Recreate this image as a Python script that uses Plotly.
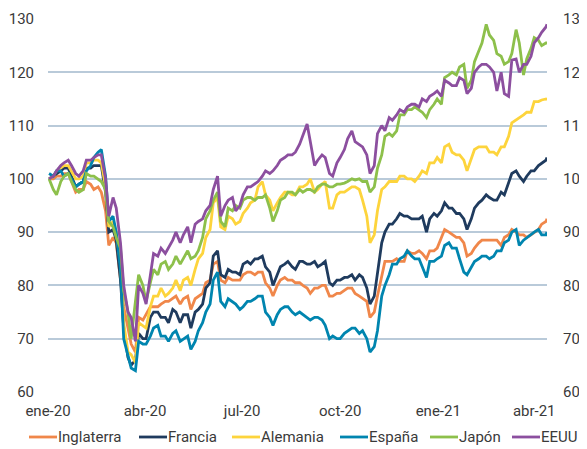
import plotly.graph_objects as go
import pandas as pd

thursdays = pd.date_range("2020-01-02", periods=67, freq="7D")
mondays = thursdays + pd.Timedelta(days=4)
dates = [d.strftime("%Y-%m-%d") for pair in zip(thursdays, mondays) for d in pair] + ["2021-04-13"]

eeuu = [100, 100.5, 101.5, 102.5, 103, 103.5, 102.5, 101, 100.5, 101.5,
        103.5, 103.5, 104, 104.5, 104.5, 100, 93, 96.5, 94.5, 88,
        80, 75, 74, 69.5, 80, 78.5, 76.5, 82, 86, 85.5,
        87, 86, 87, 88.5, 90, 88, 89.5, 91, 88, 91.5,
        92, 92.5, 94, 95, 98, 100.5, 93, 95, 96, 96.5,
        94, 95, 97, 98.5, 98.5, 99, 99.5, 100.5, 101.5, 101,
        101.5, 102.5, 103.5, 104, 104.5, 104.5, 105, 106.5, 108, 110.3,
        107, 102.5, 103.5, 104.5, 104, 101, 100.5, 103, 104, 105.5,
        107.5, 109, 107, 106.5, 106, 104.5, 101, 102.5, 108.5, 110,
        109, 111.5, 111, 112, 113, 112.5, 113.5, 114, 114, 113.5,
        115, 114.5, 115.5, 116, 116.5, 115.5, 118.5, 118, 117.5, 117.5,
        119, 118.5, 116, 117, 120, 121, 121.5, 121.5, 121, 120,
        116.5, 120, 116, 115.5, 122.3, 122.5, 120, 121.5, 121.5, 123,
        125.5, 126.5, 127.5, 128.5, 129]
japon = [100, 98, 97, 99.5, 100.5, 101, 99.5, 98, 97.5, 98,
         101, 100.5, 100.5, 100, 99.5, 98, 92, 91, 89, 87,
         79, 75, 70, 77, 82, 80, 77, 80.5, 83, 82,
         84, 84.5, 83, 84, 85.5, 84, 85, 86.5, 85, 85.5,
         86.5, 89, 92.5, 94, 96, 97.5, 92, 91, 94.5, 94,
         95, 94.5, 96, 96.5, 96.5, 96, 96.5, 96.5, 97, 94.5,
         92, 94, 96, 96.5, 97.5, 97.5, 97, 98, 97.5, 98,
         98, 97.5, 98.5, 99, 99, 98.5, 98.5, 99, 99, 99.2,
         99.5, 100, 99.8, 100, 99.5, 99.5, 97.5, 98.5, 102, 104.5,
         108, 108.5, 108, 109, 112, 112, 113, 113, 113.5, 113,
         112.5, 111.5, 113, 114, 115, 114, 119, 119.5, 120, 119.5,
         121, 121.5, 117, 118.5, 122, 124, 125.5, 129, 127, 126,
         123.5, 123, 121.5, 122, 123.5, 128, 125.5, 119.5, 122.5, 124.5,
         126.5, 126, 125, 125.5, 125.5]
alemania = [100, 100.5, 101.5, 102, 102.5, 102.5, 101.5, 100, 100, 100.5,
            103, 103, 103.5, 103.5, 103, 98.5, 91, 92, 90, 84,
            73, 67.5, 67, 65.5, 73, 72.5, 72, 76, 78, 78,
            79.5, 78, 78.5, 79.5, 81, 79, 81, 81.5, 80, 83,
            85, 86, 89, 90.5, 95.5, 96.5, 91, 90.5, 93, 92.5,
            91.5, 92, 93.5, 94.5, 95.5, 96, 98.5, 99.5, 97, 96,
            94, 95.5, 96.5, 97.5, 97.5, 97, 97, 98.5, 98.5, 99,
            100, 97.5, 98, 99, 99.5, 94.5, 94.5, 97, 97.5, 97.5,
            98, 98.5, 98.5, 98, 96, 93, 88, 89.5, 94, 98,
            98.5, 99.5, 99.5, 99.5, 100.5, 100.5, 100, 100, 99.5, 100.5,
            101.5, 101, 103, 103, 104, 103, 106, 106.5, 105, 104.5,
            104.5, 103.5, 101.5, 104, 105.5, 106, 106, 106, 105, 105,
            104.5, 106, 106, 108, 110.5, 111, 111.5, 112, 112.5, 112.5,
            114.5, 114.5, 114.8, 115, 114.8]
francia = [100, 100.5, 101, 101.5, 102, 102, 100.5, 98.5, 99, 99.5,
           102, 102, 102.5, 102.5, 102.5, 97.5, 90, 90.5, 88.5, 81,
           72, 66.5, 65, 66, 71, 70, 70, 74, 75, 75,
           74, 74, 73, 75.5, 75, 73, 74.5, 74.5, 72, 75,
           75.5, 76.5, 79.5, 80.5, 85.5, 86.5, 82, 81.5, 83, 82.5,
           82.5, 82, 84, 84.5, 84, 85, 85, 85.5, 83.5, 82.5,
           80, 82, 83.5, 84, 84.5, 83.5, 83, 84.5, 84.5, 84,
           84, 84.5, 83.5, 84, 84.5, 80.5, 80, 81, 81, 81.5,
           81.5, 82, 81, 82, 81.5, 79.5, 76.5, 78, 82, 88,
           90, 91.5, 91.5, 92.5, 93.5, 93, 93, 92.5, 92.5, 92.5,
           93, 90, 92.5, 93.5, 93, 94, 95.5, 94.5, 94.5, 93.5,
           93.5, 92.5, 90.5, 92.5, 94.5, 95.5, 96, 97, 96.5, 96,
           96, 97.5, 97, 99.5, 101, 101.5, 100.5, 99.5, 100.5, 101.5,
           101.5, 102.5, 103, 103.5, 104]
inglaterra = [100, 100, 100.5, 100.5, 101, 101, 99.5, 97.5, 98, 98,
              99.5, 99, 98, 98.5, 97.5, 94, 87.5, 89, 88, 81,
              76, 72, 69, 67.5, 74, 73.5, 74.5, 76, 76, 76,
              76.5, 77, 77, 77.5, 78, 76.5, 77.5, 78, 75.5, 77.5,
              78, 78.5, 80.5, 81, 84, 84.5, 81, 80.5, 81.5, 81,
              81, 81, 82, 82.5, 82.5, 82, 82.5, 82.5, 80.5, 79.5,
              78, 80, 81, 81.5, 81, 81, 80.5, 80.5, 80, 79.5,
              78.5, 79.5, 79.5, 80, 80, 78, 78, 78.5, 78.5, 79,
              79.5, 79.5, 78.5, 78, 77.5, 77, 74, 75, 78, 82,
              84.5, 84.5, 84.5, 85, 84.5, 84.5, 86.5, 86, 86, 86.5,
              86, 85, 86.5, 86.5, 87, 89, 90.5, 90, 89.5, 89,
              89, 88, 85.5, 86, 87, 88, 88.5, 88.5, 88.5, 88.5,
              88.5, 87.5, 89, 89.5, 90.5, 90, 89.5, 89.5, 89, 89.5,
              90, 90.5, 91.5, 92, 92.5]
espana = [101, 100.5, 101.5, 101.5, 100.5, 101, 100, 98.5, 99, 99.5,
          101.5, 102.5, 104, 105, 105.5, 100.5, 92, 93, 90, 83,
          70, 66.5, 64.5, 64, 69.5, 69, 69, 70.5, 72, 72.5,
          70.5, 70.5, 69.5, 71, 71.5, 69.5, 70, 70.5, 68, 69.5,
          71.5, 73, 75, 76.5, 81, 82.5, 77, 76, 77.5, 77,
          76.5, 75.5, 76, 77, 77, 77.5, 78, 78, 75, 74,
          72.5, 74.5, 75.5, 76, 76, 75, 74.5, 75, 74.5, 74,
          73.5, 74, 74, 73.5, 72.5, 70, 70.5, 70, 70, 71,
          71.5, 72, 72, 71, 71.5, 70, 67.5, 68.5, 71.5, 78,
          80, 82, 84, 84, 85, 85.5, 86.5, 85.5, 85, 85,
          83.5, 81.5, 84.5, 84.5, 85, 85.5, 87.5, 88, 87, 87,
          85, 82.5, 82, 83.5, 84.5, 85, 85.5, 85.5, 85, 85.5,
          86.5, 86.5, 88, 88.5, 90, 90.5, 87.5, 88.5, 89, 89.5,
          90, 90.5, 89.5, 89.5, 90]

names = ["Inglaterra", "Francia", "Alemania", "España", "Japón", "EEUU"]
values = [inglaterra, francia, alemania, espana, japon, eeuu]
colors = ["#F0874A", "#1F3B5E", "#FDD43C", "#0085AF", "#8DC04B", "#8C4F9F"]
for v in values:
    assert len(v) == len(dates), (len(v), len(dates))

y_ticks = [60, 70, 80, 90, 100, 110, 120, 130]
x_ticks = ["2020-01-01", "2020-04-01", "2020-07-01", "2020-10-01", "2021-01-01", "2021-04-01"]
x_labels = ["ene-20", "abr-20", "jul-20", "oct-20", "ene-21", "abr-21"]

# figure geometry (pixels)
W, H = 579, 441
ML, MR, MT, MB = 40, 40, 11, 57
PW, PH = W - ML - MR, H - MT - MB
# legend entry start positions in pixels (line start), line length
leg_x = [21, 131, 224, 332, 422, 504]
leg_len = 28
leg_y = 429

fig = go.Figure()
for name, vals, col in zip(names, values, colors):
    fig.add_trace(go.Scatter(x=dates, y=vals, name=name, mode="lines",
                             line=dict(color=col, width=2.8)))
fig.add_trace(go.Scatter(x=[dates[0]], y=[100], yaxis="y2", showlegend=False,
                         mode="lines", line=dict(width=0), hoverinfo="skip"))

def px_x(p):
    return (p - ML) / PW

def px_y(p):
    return (MT + PH - p) / PH

txt_color = "#3a3a3a"
for name, col, lx in zip(names, colors, leg_x):
    fig.add_shape(type="line", xref="paper", yref="paper",
                  x0=px_x(lx), x1=px_x(lx + leg_len), y0=px_y(leg_y), y1=px_y(leg_y),
                  line=dict(color=col, width=2.8))
    fig.add_annotation(xref="paper", yref="paper", x=px_x(lx + leg_len - 1), y=px_y(leg_y),
                       xanchor="left", yanchor="middle", text=name, showarrow=False,
                       font=dict(size=15, color=txt_color))

font = dict(family="Roboto, Arial, sans-serif", size=15, color=txt_color)
fig.update_layout(
    width=W, height=H,
    margin=dict(l=ML, r=MR, t=MT, b=MB, autoexpand=False),
    paper_bgcolor="white", plot_bgcolor="white",
    font=font,
    showlegend=False,
    xaxis=dict(range=["2020-01-01", "2021-04-13"], tickvals=x_ticks, ticktext=x_labels,
               showgrid=False, zeroline=False, showline=False, ticks="", ticklabelstandoff=8),
    yaxis=dict(range=[60, 130], tickvals=y_ticks, showgrid=True, gridcolor="#B9CAD9", gridwidth=1.5,
               zeroline=False, showline=False, ticks="", ticklabelstandoff=13),
    yaxis2=dict(range=[60, 130], tickvals=y_ticks, overlaying="y", side="right", showgrid=False,
                zeroline=False, showline=False, ticks="", ticklabelstandoff=15),
)
fig.write_html("out.html")
